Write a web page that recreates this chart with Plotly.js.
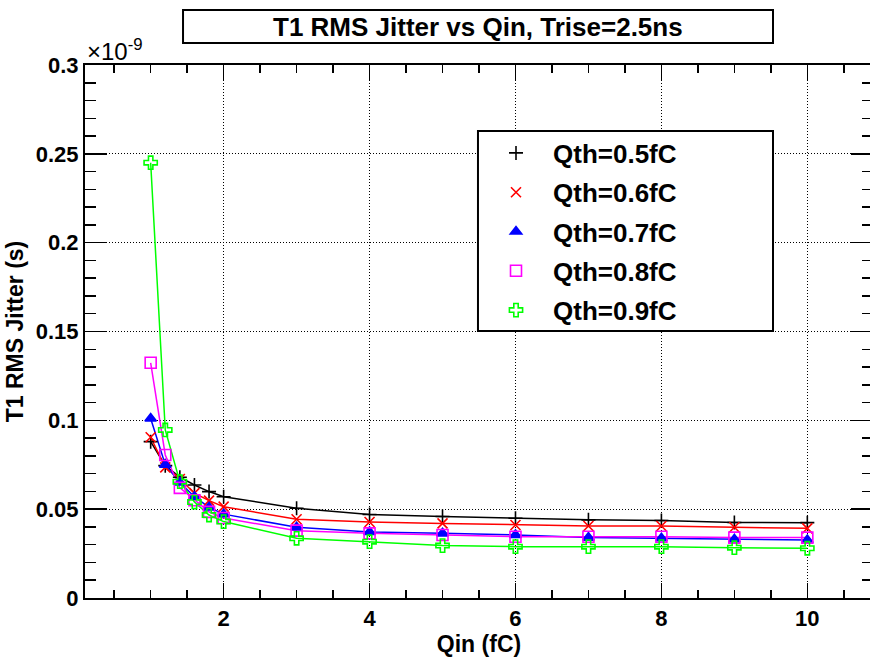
<!DOCTYPE html>
<html>
<head>
<meta charset="utf-8">
<script src="https://cdn.plot.ly/plotly-3.0.1.min.js"></script>
<style>
html, body { margin: 0; padding: 0; overflow: hidden; background: #fff; }
#chart { width: 874px; height: 657px; }
</style>
</head>
<body>
<div id="chart"></div>
<script>
// Qin values (fC)
const qin = [1, 1.2, 1.4, 1.6, 1.8, 2, 3, 4, 5, 6, 7, 8, 9, 10];
// T1 RMS jitter, in units of 1e-9 s
const jitterQth05 = [0.088, 0.0745, 0.068, 0.0636, 0.0599, 0.057, 0.0505, 0.047, 0.0459, 0.0449, 0.044, 0.0436, 0.0425, 0.0424];
const jitterQth06 = [0.0905, 0.0735, 0.067, 0.059, 0.0548, 0.0514, 0.0443, 0.0428, 0.042, 0.0411, 0.0405, 0.0405, 0.0398, 0.0392];
const jitterQth07 = [0.101, 0.075, 0.065, 0.057, 0.051, 0.0472, 0.0398, 0.0372, 0.0364, 0.0355, 0.034, 0.0336, 0.033, 0.0326];
const jitterQth08 = [0.1324, 0.0805, 0.062, 0.055, 0.0485, 0.045, 0.0379, 0.0364, 0.0355, 0.0345, 0.0345, 0.0345, 0.034, 0.034];
const jitterQth09 = [0.245, 0.0946, 0.0655, 0.054, 0.0467, 0.043, 0.0336, 0.0317, 0.0295, 0.0289, 0.0289, 0.0289, 0.0283, 0.028];

const seriesNames = ['Qth=0.5fC', 'Qth=0.6fC', 'Qth=0.7fC', 'Qth=0.8fC', 'Qth=0.9fC'];
const seriesValues = [jitterQth05, jitterQth06, jitterQth07, jitterQth08, jitterQth09];
const seriesColors = ['#000000', '#ff0000', '#0000ff', '#ff00ff', '#00ff00'];
const seriesSymbols = ['cross-thin-open', 'x-thin-open', 'triangle-up', 'square-open', 'cross-open'];
const seriesSizes = [10, 10, 10, 11, 11];

const titleText = 'T1 RMS Jitter vs Qin, Trise=2.5ns';
const xTitle = 'Qin (fC)';
const yTitle = 'T1 RMS Jitter (s)';

const FONT = '"Liberation Sans", Arial, Helvetica, sans-serif';

const traces = [];
seriesValues.forEach((vals, i) => {
  traces.push({
    x: qin, y: vals, type: 'scatter', mode: 'lines',
    line: { color: seriesColors[i], width: 1.5 },
    showlegend: false, hoverinfo: 'skip'
  });
});
seriesValues.forEach((vals, i) => {
  traces.push({
    x: qin, y: vals, type: 'scatter', mode: 'markers',
    name: seriesNames[i], legendgroup: 'g' + i,
    marker: {
      symbol: seriesSymbols[i], size: seriesSizes[i], color: seriesColors[i],
      line: { color: seriesColors[i], width: 1.6 }
    }
  });
});

const axisCommon = {
  showline: true, linecolor: '#000', linewidth: 2, mirror: 'allticks',
  ticks: 'inside', tickcolor: '#000', tickwidth: 1.5,
  showgrid: true, gridcolor: '#000', gridwidth: 1, griddash: '1px,2px',
  zeroline: false,
  tickfont: { family: FONT, size: 22, color: '#000', weight: 'bold' }
};

const layout = {
  width: 874, height: 657,
  margin: { l: 85, r: 1, t: 65, b: 59 },
  paper_bgcolor: '#fff', plot_bgcolor: '#fff',
  font: { family: FONT, color: '#000' },
  showlegend: true,
  xaxis: Object.assign({}, axisCommon, {
    range: [0.1, 10.9], tick0: 0, dtick: 2, ticklen: 15,
    minor: { dtick: 0.5, ticklen: 8, ticks: 'inside', tickcolor: '#000', tickwidth: 1.5, showgrid: false },
    title: { text: xTitle, font: { family: FONT, size: 23, weight: 'bold' }, standoff: 1 }
  }),
  yaxis: Object.assign({}, axisCommon, {
    range: [0, 0.3], tick0: 0, dtick: 0.05, ticklen: 22,
    minor: { dtick: 0.01, ticklen: 11, ticks: 'inside', tickcolor: '#000', tickwidth: 1.5, showgrid: false },
    title: { text: yTitle, font: { family: FONT, size: 23, weight: 'bold' }, standoff: 6 }
  }),
  legend: {
    x: 0.5, y: 0.879, xanchor: 'left', yanchor: 'top',
    bgcolor: 'rgba(0,0,0,0)', borderwidth: 0,
    itemwidth: 64, tracegroupgap: 2.5, traceorder: 'grouped',
    font: { family: FONT, size: 26, color: '#000', weight: 'bold' }
  },
  shapes: [
    { type: 'rect', xref: 'paper', yref: 'paper', x0: 0.1244, x1: 0.8731, y0: 1.0413, y1: 1.1032,
      line: { color: '#000', width: 2 }, fillcolor: '#fff', layer: 'above' },
    { type: 'rect', xref: 'paper', yref: 'paper', x0: 0.4987, x1: 0.8731, y0: 0.5009, y1: 0.8762,
      line: { color: '#000', width: 2 }, fillcolor: '#fff', layer: 'above' }
  ],
  annotations: [
    { text: titleText, xref: 'paper', yref: 'paper', x: 0.4987, y: 1.0722,
      xanchor: 'center', yanchor: 'middle', showarrow: false,
      font: { family: FONT, size: 26, color: '#000', weight: 'bold' } },
    { text: '×10<sup>-9</sup>', xref: 'paper', yref: 'paper', x: 0, y: 1,
      xanchor: 'left', yanchor: 'bottom', showarrow: false, yshift: -2,
      font: { family: FONT, size: 24, color: '#000' } }
  ]
};

Plotly.newPlot('chart', traces, layout, { displayModeBar: false, staticPlot: true });
</script>
</body>
</html>
